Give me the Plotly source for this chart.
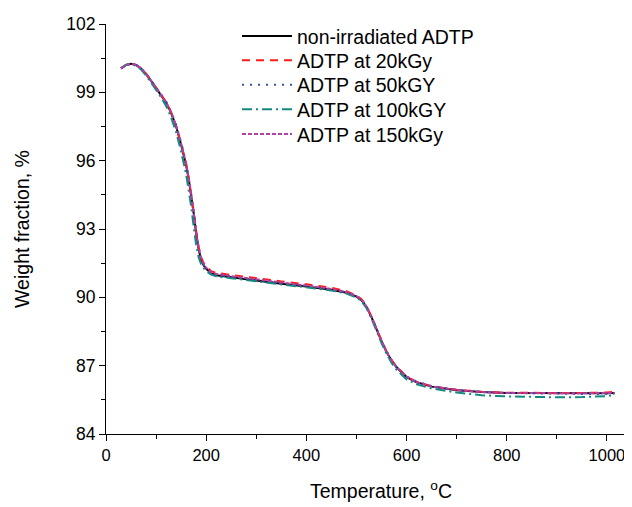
import plotly.graph_objects as go

temperature = [30, 40, 50, 60, 70, 80, 90, 100, 110, 120, 130, 140, 150, 160, 165, 170, 175,
               180, 185, 190, 195, 200, 210, 220, 250, 300, 350, 400, 450, 480, 500, 510, 520,
               530, 540, 550, 560, 570, 580, 590, 600, 620, 650, 700, 750, 800, 850, 900, 950,
               1000, 1015]

non_irradiated = [100.05, 100.2, 100.25, 100.2, 100.05, 99.8, 99.5, 99.2, 98.9, 98.55, 98.1, 97.5,
                  96.7, 95.8, 95.2, 94.5, 93.7, 92.8, 92.1, 91.65, 91.4, 91.25, 91.05, 90.97, 90.88,
                  90.74, 90.6, 90.48, 90.33, 90.2, 90.03, 89.88, 89.58, 89.13, 88.58, 88.08, 87.6,
                  87.23, 86.93, 86.7, 86.5, 86.27, 86.08, 85.92, 85.84, 85.8, 85.79, 85.79, 85.79,
                  85.79, 85.8]

kgy20 = [100.05, 100.2, 100.25, 100.2, 100.05, 99.82, 99.52, 99.22, 98.92, 98.57, 98.12, 97.52,
         96.75, 95.85, 95.25, 94.55, 93.75, 92.9, 92.2, 91.75, 91.5, 91.35, 91.15, 91.07, 90.98,
         90.84, 90.7, 90.57, 90.42, 90.27, 90.08, 89.92, 89.61, 89.15, 88.6, 88.1, 87.62, 87.25,
         86.95, 86.72, 86.52, 86.29, 86.1, 85.94, 85.85, 85.81, 85.8, 85.8, 85.8, 85.82, 85.86]

kgy50 = [100.05, 100.2, 100.25, 100.2, 100.06, 99.83, 99.53, 99.23, 98.93, 98.6, 98.16, 97.58,
         96.8, 95.9, 95.3, 94.6, 93.8, 92.9, 92.15, 91.68, 91.42, 91.27, 91.07, 90.99, 90.9,
         90.76, 90.62, 90.5, 90.35, 90.22, 90.05, 89.9, 89.6, 89.15, 88.6, 88.1, 87.63, 87.25,
         86.95, 86.72, 86.53, 86.3, 86.11, 85.94, 85.85, 85.8, 85.78, 85.77, 85.76, 85.76, 85.77]

kgy100 = [100.05, 100.2, 100.24, 100.17, 100.0, 99.74, 99.42, 99.1, 98.78, 98.4, 97.9, 97.25,
          96.4, 95.4, 94.75, 94.0, 93.1, 92.3, 91.75, 91.45, 91.28, 91.15, 91.0, 90.92, 90.84,
          90.71, 90.58, 90.45, 90.3, 90.17, 89.99, 89.83, 89.52, 89.06, 88.5, 87.99, 87.52,
          87.13, 86.82, 86.6, 86.4, 86.18, 86.0, 85.82, 85.7, 85.65, 85.62, 85.61, 85.62,
          85.66, 85.72]

kgy150 = [100.05, 100.2, 100.25, 100.2, 100.05, 99.81, 99.51, 99.21, 98.91, 98.57, 98.12, 97.53,
          96.74, 95.84, 95.24, 94.54, 93.74, 92.85, 92.15, 91.7, 91.45, 91.3, 91.1, 91.02, 90.93,
          90.79, 90.65, 90.52, 90.37, 90.23, 90.05, 89.9, 89.6, 89.14, 88.59, 88.09, 87.61, 87.24,
          86.94, 86.71, 86.51, 86.28, 86.09, 85.93, 85.84, 85.8, 85.79, 85.79, 85.79, 85.8, 85.8]

series_names = ["non-irradiated ADTP", "ADTP at 20kGy", "ADTP at 50kGY", "ADTP at 100kGY",
                "ADTP at 150kGy"]
series_values = [non_irradiated, kgy20, kgy50, kgy100, kgy150]
colors = ["#000000", "#ff1a1a", "#3a4fb0", "#138a80", "#b040a8"]
dashes = ["solid", "8px,6px", "2px,6px", "10px,4px,2px,4px", "4px,2px"]

x_ticks = [0, 200, 400, 600, 800, 1000]
y_ticks = [84, 87, 90, 93, 96, 99, 102]
x_title = "Temperature, <sup>o</sup>C"
y_title = "Weight fraction, %"

family = "Liberation Sans, Arial, sans-serif"
xtick_font = dict(family=family, size=16.5, color="#000000")
ytick_font = dict(family=family, size=17.5, color="#000000")
title_font = dict(family=family, size=19.5, color="#000000")
legend_font = dict(family=family, size=19.5, color="#000000")

# one legend box per series so the row spacing can be tighter than Plotly's default
legend_ids = ["legend", "legend2", "legend3", "legend4", "legend5"]
legend_rows_y = [0.970, 0.911, 0.851, 0.791, 0.731]

fig = go.Figure()
for name, vals, col, dsh, lid in zip(series_names, series_values, colors, dashes, legend_ids):
    fig.add_trace(go.Scatter(x=temperature, y=vals, mode="lines", name=name, legend=lid,
                             line=dict(color=col, width=2, dash=dsh)))

legend_layout = {}
for lid, ly in zip(legend_ids, legend_rows_y):
    legend_layout[lid] = dict(x=0.249, y=ly, xanchor="left", yanchor="middle",
                              bgcolor="rgba(0,0,0,0)", font=legend_font, itemwidth=50,
                              borderwidth=0)

# x-axis title as an annotation so it can sit slightly right of the plot centre, as in the original
fig.add_annotation(text=x_title, xref="paper", yref="paper", x=0.523, y=0, yshift=-56,
                   xanchor="center", yanchor="middle", showarrow=False, font=title_font)

# the page body adds an 8px margin, so the figure is sized to fill the rest of the window
fig.update_layout(
    width=624, height=499,
    margin=dict(l=98, r=0, t=16, b=73, autoexpand=False),
    paper_bgcolor="white", plot_bgcolor="white",
    font=ytick_font,
    showlegend=True,
    xaxis=dict(range=[0, 1050], tickvals=x_ticks, ticks="outside", ticklen=6, tickwidth=1.2,
               showline=True, linecolor="black", linewidth=1.2, showgrid=False, zeroline=False,
               automargin=False, tickfont=xtick_font,
               minor=dict(dtick=100, tick0=0, ticks="outside", ticklen=4, tickwidth=1.2,
                          tickcolor="black", showgrid=False),
               tickcolor="black"),
    yaxis=dict(range=[84, 102], tickvals=y_ticks, ticks="outside", ticklen=6, tickwidth=1.2,
               showline=True, linecolor="black", linewidth=1.2, showgrid=False, zeroline=False,
               automargin=False, tickfont=ytick_font,
               minor=dict(dtick=1.5, tick0=84, ticks="outside", ticklen=4, tickwidth=1.2,
                          tickcolor="black", showgrid=False),
               title=dict(text=y_title, standoff=31, font=title_font),
               tickcolor="black"),
    **legend_layout,
)

fig.write_html("out.html")
